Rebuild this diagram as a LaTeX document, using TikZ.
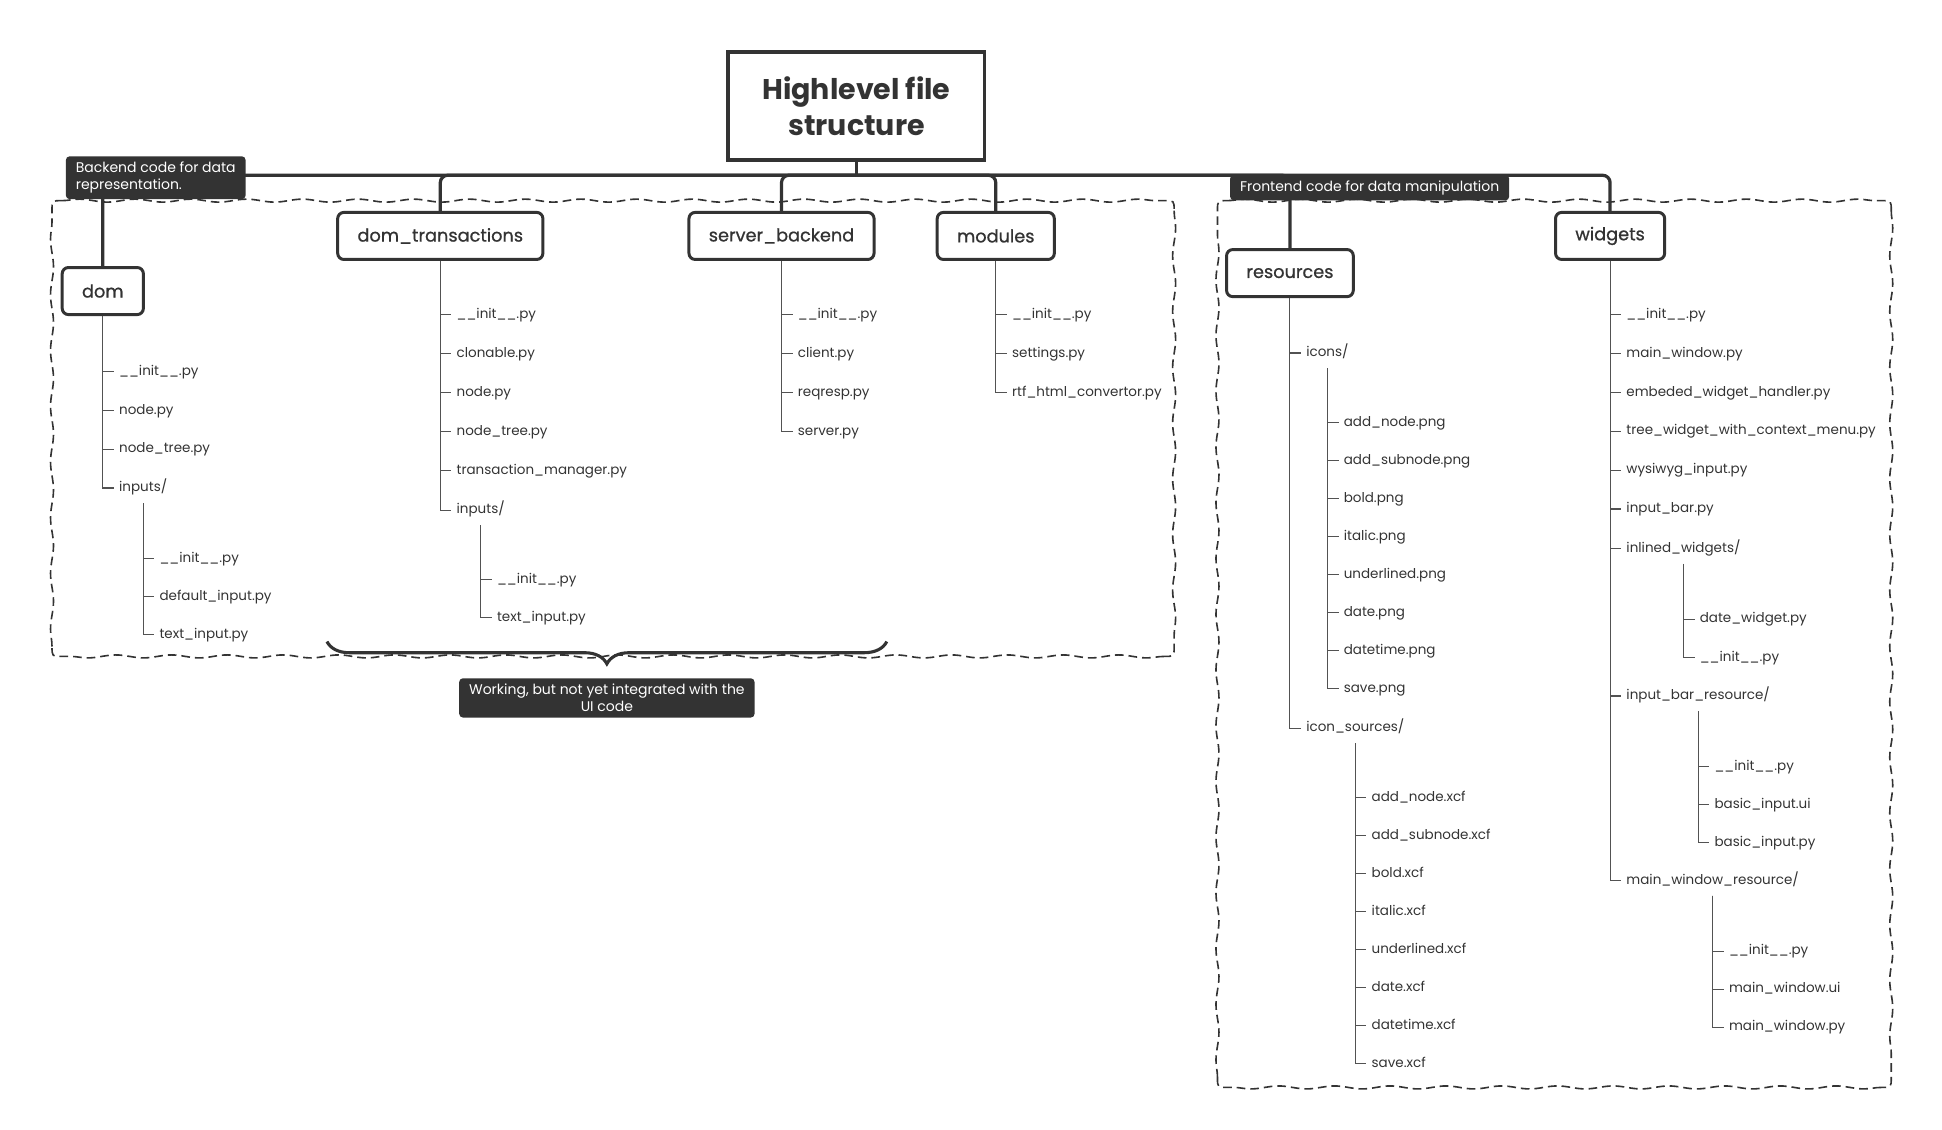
\documentclass[tikz,border=0pt]{standalone}
\usepackage{fontspec}
\setmainfont{Poppins}
\newfontfamily\topicfont{Poppins}[FakeBold=0.8]
\usepackage{xcolor}
\definecolor{ink}{HTML}{333333}
\usepackage{tikz}
\usetikzlibrary{calc,positioning,decorations.pathmorphing,decorations.pathreplacing}

\begin{document}
\begin{tikzpicture}[x=1pt, y=-1pt,
  rootbox/.style={rectangle, draw=ink, line width=3pt, fill=white, minimum width=207pt, minimum height=87pt, align=center, text=ink, font=\fontsize{23}{29}\selectfont\bfseries},
  topicbox/.style={rectangle, draw=ink, line width=2.4pt, fill=white, rounded corners=5pt, minimum height=38pt, inner xsep=16pt, text=ink, font=\topicfont\fontsize{14.3}{17}\selectfont},
  filelabel/.style={anchor=west, inner xsep=4pt, inner ysep=1pt, text height=9pt, text depth=3pt, text=ink, font=\fontsize{10.9}{13}\selectfont},
  calloutbox/.style={rectangle, fill=ink, rounded corners=3pt, text=white, inner xsep=8pt, inner ysep=4.5pt, font=\fontsize{11.3}{14}\selectfont},
  bus/.style={draw=ink, line width=2.6pt, rounded corners=6pt},
  branch/.style={draw=ink!85, line width=0.9pt},
  subbranch/.style={branch, shorten <=5pt},
  boundary/.style={draw=ink, line width=1.3pt, dash pattern=on 7pt off 4pt, decoration={snake, amplitude=1.2pt, segment length=45pt}},
  bracebar/.style={draw=ink, line width=2.5pt, decorate, decoration={brace, amplitude=18pt}}
]
\useasboundingbox (0,0) rectangle (1568,912);

% Boundaries
\draw[boundary] decorate{(50,162) -- (940,162)} .. controls (948,162) .. (948,170)
  decorate{(948,170) -- (948,522)} .. controls (948,530) .. (940,530)
  decorate{(940,530) -- (50,530)} .. controls (42,530) .. (42,522)
  decorate{(42,522) -- (42,170)} .. controls (42,162) .. (50,162);
\draw[boundary] decorate{(991,162) -- (1519,162)} .. controls (1527,162) .. (1527,170)
  decorate{(1527,170) -- (1527,870)} .. controls (1527,878) .. (1519,878)
  decorate{(1519,878) -- (991,878)} .. controls (983,878) .. (983,870)
  decorate{(983,870) -- (983,170)} .. controls (983,162) .. (991,162);

% Root and main topics
\node[rootbox] (root) at (691.5,85.5) {Highlevel file\\structure};
\node[topicbox] (dom) at (83,235) {dom};
\node[topicbox] (dtrans) at (355.5,190.5) {dom\_transactions};
\node[topicbox] (srvback) at (631,190.5) {server\_backend};
\node[topicbox] (modules) at (804,190.5) {modules};
\node[topicbox] (resources) at (1041.5,220.5) {resources};
\node[topicbox] (widgets) at (1300,190.5) {widgets};

% Bus
\coordinate (hub) at ($(root.south)+(0,11)$);
\draw[bus] (root.south) -- (hub);
\foreach \t in {dom,dtrans,srvback,modules,resources,widgets}
  \draw[bus] (hub) -| (\t.north);

% dom
\foreach \f [count=\i] in {\_\_init\_\_.py, node.py, node\_tree.py}
  \node[filelabel] (dom-\i) at (92,{300+31.3*(\i-1)}) {\f};
\node[filelabel] (dom-in) at (92,394) {inputs/};
\foreach \n in {dom-1,dom-2,dom-3,dom-in}
  \draw[branch] (dom.south) |- (\n.west);
\foreach \f [count=\i] in {\_\_init\_\_.py, default\_input.py, text\_input.py}
  \node[filelabel] (domin-\i) at ($(dom-in.center)+(9,{57+30.7*(\i-1)})$) {\f};
\foreach \i in {1,2,3}
  \draw[subbranch] (dom-in.south) |- (domin-\i.west);

% dom_transactions
\foreach \f [count=\i] in {\_\_init\_\_.py, clonable.py, node.py, node\_tree.py, transaction\_manager.py}
  \node[filelabel] (dt-\i) at (364.5,{254+31.5*(\i-1)}) {\f};
\node[filelabel] (dt-in) at (364.5,412) {inputs/};
\foreach \n in {dt-1,dt-2,dt-3,dt-4,dt-5,dt-in}
  \draw[branch] (dtrans.south) |- (\n.west);
\foreach \f [count=\i] in {\_\_init\_\_.py, text\_input.py}
  \node[filelabel] (dtin-\i) at ($(dt-in.center)+(9,{56+30.7*(\i-1)})$) {\f};
\foreach \i in {1,2}
  \draw[subbranch] (dt-in.south) |- (dtin-\i.west);

% server_backend
\foreach \f [count=\i] in {\_\_init\_\_.py, client.py, reqresp.py, server.py}
  \node[filelabel] (sb-\i) at (640,{254+31.5*(\i-1)}) {\f};
\foreach \i in {1,...,4}
  \draw[branch] (srvback.south) |- (sb-\i.west);

% modules
\foreach \f [count=\i] in {\_\_init\_\_.py, settings.py, rtf\_html\_convertor.py}
  \node[filelabel] (mod-\i) at (813,{254+31.5*(\i-1)}) {\f};
\foreach \i in {1,2,3}
  \draw[branch] (modules.south) |- (mod-\i.west);

% resources
\node[filelabel] (res-ico) at (1050.5,285) {icons/};
\node[filelabel] (res-src) at (1050.5,588) {icon\_sources/};
\foreach \n in {res-ico,res-src}
  \draw[branch] (resources.south) |- (\n.west);
\foreach \f [count=\i] in {add\_node, add\_subnode, bold, italic, underlined, date, datetime, save}
  \node[filelabel] (ico-\i) at ($(res-ico.center)+(9,{56+30.7*(\i-1)})$) {\f.png};
\foreach \f [count=\i] in {add\_node, add\_subnode, bold, italic, underlined, date, datetime, save}
  \node[filelabel] (src-\i) at ($(res-src.center)+(9,{56+30.7*(\i-1)})$) {\f.xcf};
\foreach \i in {1,...,8} {
  \draw[subbranch] (res-ico.south) |- (ico-\i.west);
  \draw[subbranch] (res-src.south) |- (src-\i.west);
}

% widgets
\foreach \f [count=\i] in {\_\_init\_\_.py, main\_window.py, embeded\_widget\_handler.py, tree\_widget\_with\_context\_menu.py, wysiwyg\_input.py, input\_bar.py}
  \node[filelabel] (wid-\i) at (1309,{254+31.4*(\i-1)}) {\f};
\node[filelabel] (wid-inl) at (1309,443) {inlined\_widgets/};
\node[filelabel] (wid-ibr) at (1309,562) {input\_bar\_resource/};
\node[filelabel] (wid-mwr) at (1309,711) {main\_window\_resource/};
\foreach \n in {wid-1,wid-2,wid-3,wid-4,wid-5,wid-6,wid-inl,wid-ibr,wid-mwr}
  \draw[branch] (widgets.south) |- (\n.west);
\foreach \f [count=\i] in {date\_widget.py, \_\_init\_\_.py}
  \node[filelabel] (inl-\i) at ($(wid-inl.center)+(9,{57+30.7*(\i-1)})$) {\f};
\foreach \f [count=\i] in {\_\_init\_\_.py, basic\_input.ui, basic\_input.py}
  \node[filelabel] (ibr-\i) at ($(wid-ibr.center)+(9,{57+30.7*(\i-1)})$) {\f};
\foreach \f [count=\i] in {\_\_init\_\_.py, main\_window.ui, main\_window.py}
  \node[filelabel] (mwr-\i) at ($(wid-mwr.center)+(9,{57+30.7*(\i-1)})$) {\f};
\foreach \i in {1,2}
  \draw[subbranch] (wid-inl.south) |- (inl-\i.west);
\foreach \i in {1,2,3} {
  \draw[subbranch] (wid-ibr.south) |- (ibr-\i.west);
  \draw[subbranch] (wid-mwr.south) |- (mwr-\i.west);
}

% Brace and notes
\coordinate (brace-l) at (264,518);
\coordinate (brace-r) at (716,518);
\draw[bracebar] (brace-r) -- (brace-l);
\node[calloutbox, align=left, anchor=north west] (backnote) at (53,126) {Backend code for data\\representation.};
\node[calloutbox, anchor=north west] (frontnote) at (993,141) {Frontend code for data manipulation};
\node[calloutbox, align=center] (wipnote) at (490,563.5) {Working, but not yet integrated with the\\UI code};

\end{tikzpicture}
\end{document}
